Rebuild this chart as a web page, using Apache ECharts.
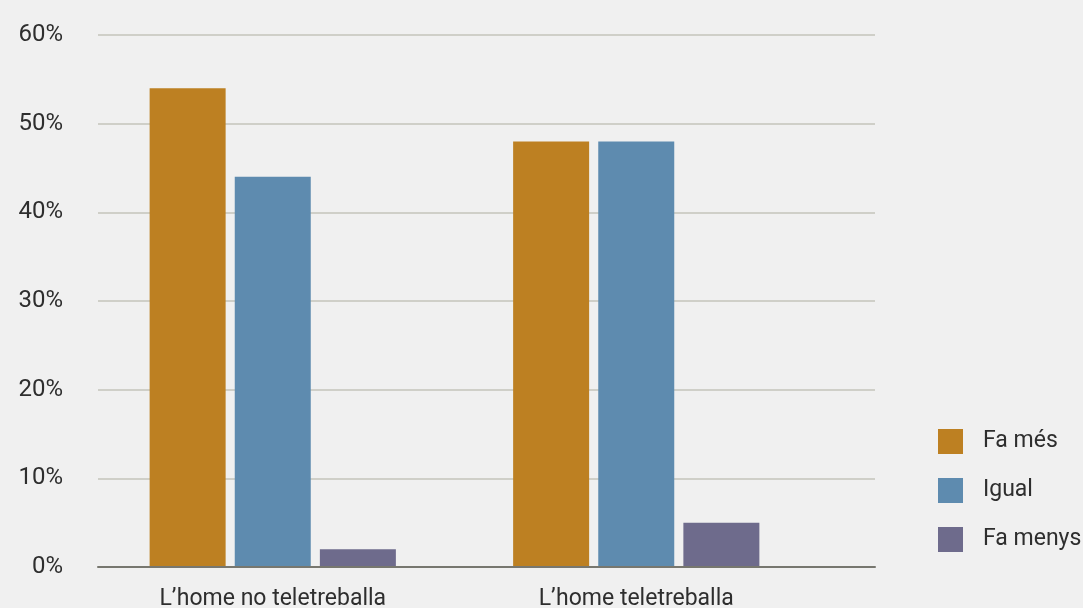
<!DOCTYPE html>
<html>
<head>
<meta charset="utf-8">
<script src="https://cdn.jsdelivr.net/npm/echarts@6/dist/echarts.min.js"></script>
<style>
  html, body { margin: 0; padding: 0; background: #f0f0f0; }
  #chart { width: 1083px; height: 608px; }
</style>
</head>
<body>
<div id="chart"></div>
<script>
// Categories and series values (percent)
const categories = ["L’home no teletreballa", "L’home teletreballa"];
const seriesNames = ["Fa més", "Igual", "Fa menys"];
const faMes = [54, 48];
const igual = [44, 48];
const faMenys = [2, 5];
const yTicks = [0, 10, 20, 30, 40, 50, 60];

const colors = ["#bd8022", "#5e8baf", "#6e6b8c"];
const font = "Roboto, 'Noto Sans', sans-serif";

const chart = echarts.init(document.getElementById('chart'));

const option = {
  backgroundColor: '#f0f0f0',
  animation: false,
  legend: {
    orient: 'vertical',
    left: 938,
    top: 429,
    padding: 0,
    itemWidth: 25,
    itemHeight: 25,
    itemGap: 24,
    icon: 'rect',
    data: seriesNames,
    textStyle: { fontFamily: font, fontSize: 23, color: '#2e2e2e', padding: [0, 0, 0, 15] }
  },
  grid: [
    // frame grid: gridlines, y labels and baseline
    { left: 98, right: 208, top: 35, bottom: 41, outerBoundsMode: 'none' },
    // bar grid
    { left: 91, width: 727, top: 35, bottom: 41, outerBoundsMode: 'none' }
  ],
  xAxis: [
    {
      gridIndex: 0, type: 'category', data: [''],
      axisLine: { show: true, lineStyle: { color: '#77776f', width: 2 } },
      axisTick: { show: false }, axisLabel: { show: false }, z: 5
    },
    {
      gridIndex: 1, type: 'category', data: categories,
      axisLine: { show: false }, axisTick: { show: false },
      axisLabel: { fontFamily: font, fontSize: 23, color: '#2e2e2e', margin: 21 }
    }
  ],
  yAxis: [
    {
      gridIndex: 0, type: 'value', min: yTicks[0], max: yTicks[yTicks.length - 1], interval: 10,
      axisLine: { show: false }, axisTick: { show: false },
      axisLabel: { formatter: '{value}%', fontFamily: font, fontSize: 24, color: '#2e2e2e', margin: 35 },
      splitLine: { lineStyle: { color: '#cfcfc8', width: 2 } }
    },
    {
      gridIndex: 1, type: 'value', min: yTicks[0], max: yTicks[yTicks.length - 1], interval: 10,
      show: false, splitLine: { show: false }
    }
  ],
  series: [
    { name: seriesNames[0], type: 'bar', xAxisIndex: 1, yAxisIndex: 1, data: faMes, barWidth: 76, barGap: '12%', itemStyle: { color: colors[0] } },
    { name: seriesNames[1], type: 'bar', xAxisIndex: 1, yAxisIndex: 1, data: igual, barWidth: 76, barGap: '12%', itemStyle: { color: colors[1] } },
    { name: seriesNames[2], type: 'bar', xAxisIndex: 1, yAxisIndex: 1, data: faMenys, barWidth: 76, barGap: '12%', itemStyle: { color: colors[2] } }
  ]
};

chart.setOption(option);
</script>
</body>
</html>
